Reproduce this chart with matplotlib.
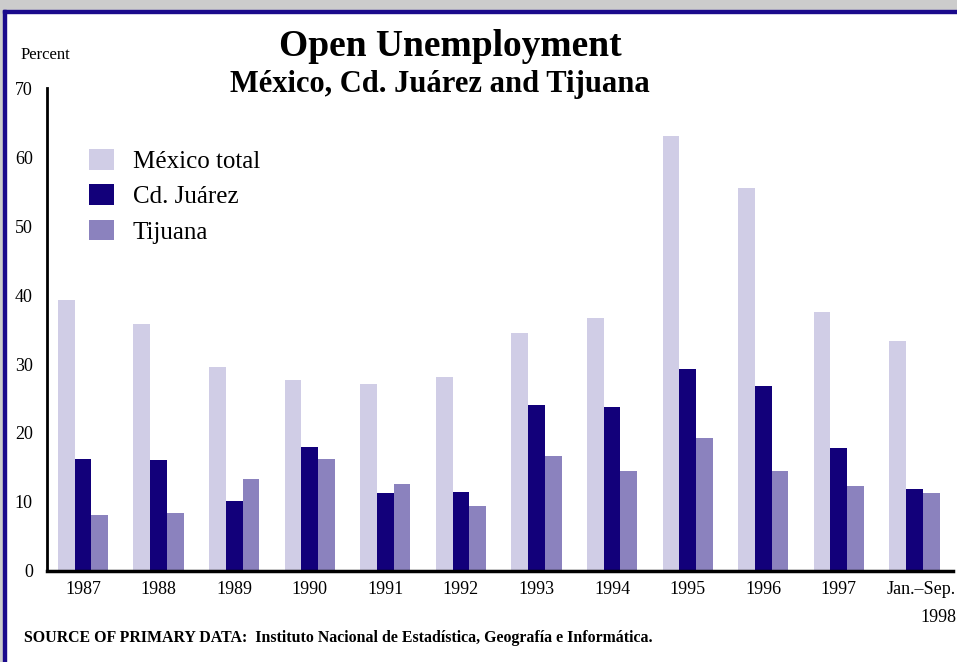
import matplotlib.pyplot as plt
import matplotlib.transforms as mtransforms
import numpy as np
from matplotlib.patches import Rectangle

plt.rcParams['font.family'] = ['Liberation Serif', 'DejaVu Serif']

# Дані
years = ['1987', '1988', '1989', '1990', '1991', '1992', '1993', '1994',
         '1995', '1996', '1997', 'Jan.–Sep.\n1998']
mexico_total = [39.3, 35.8, 29.6, 27.7, 27.1, 28.1, 34.5, 36.7, 63.0, 55.5, 37.5, 33.3]
cd_juarez = [16.3, 16.1, 10.1, 18.0, 11.3, 11.4, 24.1, 23.8, 29.3, 26.8, 17.8, 11.9]
tijuana = [8.1, 8.4, 13.3, 16.2, 12.6, 9.4, 16.7, 14.5, 19.3, 14.5, 12.3, 11.3]

c_light = '#D0CDE6'
c_dark = '#12007A'
c_mid = '#8B82BE'

fig = plt.figure(figsize=(9.57, 6.62), dpi=100)
ax = fig.add_axes([0.0488, 0.1375, 0.947, 0.7295])

x = np.arange(len(years))
w = 0.222
ax.bar(x - w, mexico_total, w, color=c_light, label='México total')
ax.bar(x, cd_juarez, w, color=c_dark, label='Cd. Juárez')
ax.bar(x + w, tijuana, w, color=c_mid, label='Tijuana')

ax.set_xlim(-0.48, 11.51)
ax.set_ylim(0, 70)
ax.set_yticks(range(0, 71, 10))
ax.set_xticks(x)
ax.set_xticklabels(years, fontsize=13, linespacing=1.9)
ax.tick_params(axis='both', length=0, labelsize=13)
ax.tick_params(axis='y', pad=10)
ax.tick_params(axis='x', pad=7)

# последня подпись вправо
last = ax.get_xticklabels()[-1]
last.set_multialignment('right')
last.set_transform(last.get_transform() + mtransforms.ScaledTranslation(0.07, 0, fig.dpi_scale_trans))

for s in ['top', 'right']:
    ax.spines[s].set_visible(False)
ax.spines['left'].set_linewidth(2)
ax.spines['bottom'].set_linewidth(2.5)

ax.legend(loc='upper left', bbox_to_anchor=(0.022, 0.92), frameon=False,
          fontsize=18, handlelength=1.0, handleheight=0.9, handletextpad=0.75,
          labelspacing=0.45)

# Заголовки
fig.text(0.471, 0.93, 'Open Unemployment', ha='center', va='center',
         fontsize=27, fontweight='bold')
fig.text(0.46, 0.872, 'México, Cd. Juárez and Tijuana', ha='center', va='center',
         fontsize=22, fontweight='bold')
fig.text(0.021, 0.917, 'Percent', ha='left', va='center', fontsize=12)
fig.text(0.025, 0.036, 'SOURCE OF PRIMARY DATA:  Instituto Nacional de Estadística, Geografía e Informática.',
         ha='left', va='center', fontsize=11.4, fontweight='bold')

# Рамка
fig.patches.append(Rectangle((0, 1 - 10 / 662), 1, 10 / 662, transform=fig.transFigure,
                             color='#CCCCCC', zorder=0))
fig.patches.append(Rectangle((0, 0), 3 / 957, 1, transform=fig.transFigure,
                             color='#CCCCCC', zorder=0))
fig.patches.append(Rectangle((3 / 957, 1 - 13 / 662), 1, 3 / 662, transform=fig.transFigure,
                             color='#1A0A8C', zorder=1))
fig.patches.append(Rectangle((3 / 957, 0), 2.5 / 957, 1 - 10 / 662, transform=fig.transFigure,
                             color='#1A0A8C', zorder=1))

fig.savefig('out.png', dpi=100)
